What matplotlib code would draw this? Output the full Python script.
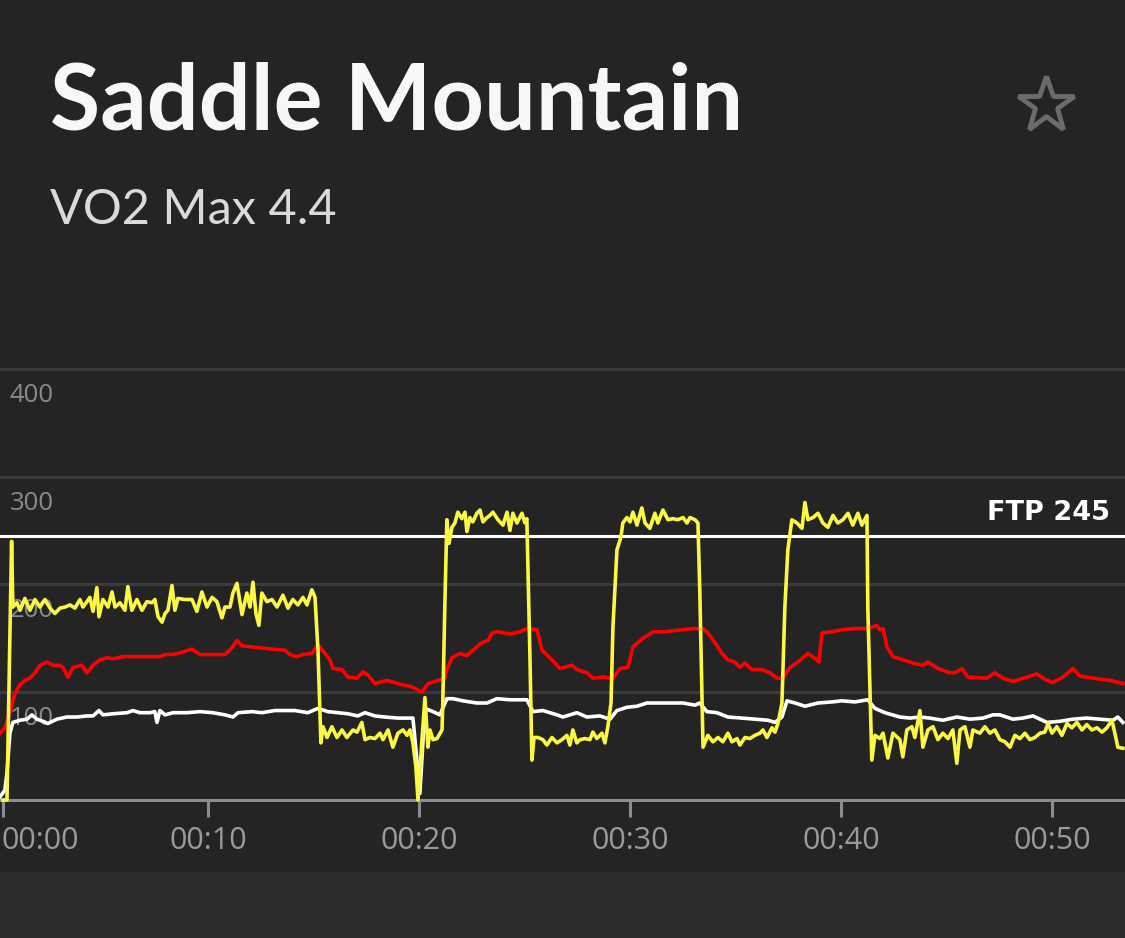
import matplotlib.pyplot as plt
from matplotlib.lines import Line2D
from matplotlib.patches import Rectangle

# workout data, time in minutes
power_t = [0.28, 0.33, 0.47, 0.69, 0.75, 0.94, 1.09, 1.32, 1.56, 1.80, 2.03, 2.27, 2.51, 2.74,
           2.98, 3.22, 3.46, 3.69, 3.93, 4.07, 4.26, 4.40, 4.55, 4.73, 4.83, 5.02, 5.26, 5.45,
           5.59, 5.83, 6.06, 6.20, 6.39, 6.63, 6.87, 7.10, 7.34, 7.48, 7.63, 7.82, 7.96, 8.10,
           8.29, 8.43, 8.57, 8.91, 9.24, 9.47, 9.71, 9.95, 10.19, 10.42, 10.66, 10.80, 11.04,
           11.18, 11.37, 11.61, 11.84, 11.99, 12.13, 12.27, 12.41, 12.55, 12.79, 13.03, 13.27,
           13.55, 13.79, 14.02, 14.26, 14.50, 14.69, 14.92, 15.07, 15.21, 15.35, 15.45, 15.64,
           15.87, 16.11, 16.35, 16.58, 16.87, 17.06, 17.29, 17.44, 17.67, 17.91, 18.15, 18.29,
           18.53, 18.76, 19.00, 19.24, 19.43, 19.57, 19.71, 19.85, 19.95, 20.14, 20.28, 20.42,
           20.52, 20.66, 20.85, 21.09, 21.13, 21.23, 21.32, 21.42, 21.56, 21.70, 21.84, 22.03,
           22.18, 22.27, 22.41, 22.55, 22.74, 22.89, 23.03, 23.22, 23.36, 23.50, 23.74, 23.98,
           24.17, 24.31, 24.45, 24.64, 24.88, 25.02, 25.11, 25.26, 25.35, 25.45, 25.64, 25.87,
           26.06, 26.30, 26.54, 26.77, 27.01, 27.15, 27.29, 27.48, 27.63, 27.86, 28.10, 28.24,
           28.43, 28.67, 28.81, 28.95, 29.10, 29.19, 29.38, 29.57, 29.66, 29.85, 30.00, 30.14,
           30.33, 30.56, 30.71, 30.94, 31.18, 31.32, 31.56, 31.80, 32.03, 32.27, 32.51, 32.70,
           32.84, 33.08, 33.22, 33.31, 33.46, 33.69, 33.93, 34.17, 34.40, 34.64, 34.83, 35.07,
           35.21, 35.45, 35.68, 35.92, 36.16, 36.30, 36.49, 36.73, 36.87, 37.01, 37.20, 37.34,
           37.48, 37.67, 37.91, 38.15, 38.29, 38.43, 38.67, 38.91, 39.14, 39.38, 39.62, 39.85,
           40.09, 40.33, 40.56, 40.80, 40.99, 41.23, 41.27, 41.46, 41.61, 41.84, 41.99, 42.22,
           42.46, 42.79, 42.93, 43.12, 43.36, 43.50, 43.74, 43.88, 44.12, 44.36, 44.59, 44.83,
           45.07, 45.30, 45.49, 45.64, 45.87, 46.11, 46.25, 46.58, 46.82, 47.06, 47.29, 47.53,
           47.77, 48.01, 48.24, 48.48, 48.72, 48.95, 49.19, 49.43, 49.66, 49.81, 50.00, 50.23,
           50.47, 50.71, 50.94, 51.18, 51.42, 51.65, 51.89, 52.13, 52.37, 52.60, 52.84, 52.98,
           53.12, 53.36]
power = [0, 0, 0, 240, 179, 183, 176, 187, 176, 186, 179, 186, 178, 173,
         178, 179, 181, 178, 186, 179, 184, 188, 175, 197, 170, 186, 179, 193,
         179, 183, 176, 198, 176, 186, 176, 184, 183, 186, 170, 165, 173, 176,
         199, 176, 187, 186, 186, 175, 193, 179, 188, 184, 169, 179, 179,
         192, 201, 172, 192, 179, 202, 173, 162, 192, 184, 186, 179,
         190, 178, 186, 181, 188, 181, 195, 188, 139, 53, 68, 58,
         68, 58, 65, 58, 65, 63, 72, 56, 58, 57, 62, 56,
         65, 49, 62, 65, 60, 65, 53, 31, 0, 56, 95, 49,
         65, 56, 57, 65, 93, 186, 260, 238, 253, 257, 267, 261,
         267, 249, 262, 258, 266, 269, 258, 262, 264, 267, 260, 255,
         267, 250, 266, 257, 266, 257, 261, 130, 37, 58, 58, 56,
         51, 58, 53, 56, 60, 51, 65, 53, 56, 57, 56, 63,
         57, 62, 53, 68, 90, 160, 232, 244, 257, 262, 258, 267,
         255, 271, 257, 252, 266, 257, 269, 260, 261, 260, 262, 257,
         262, 260, 257, 192, 49, 60, 54, 58, 54, 62, 54, 57,
         51, 58, 57, 60, 62, 65, 58, 67, 63, 71, 90, 179,
         232, 260, 257, 252, 276, 260, 262, 266, 257, 253, 264, 257,
         260, 266, 255, 266, 255, 264, 179, 37, 60, 57, 62, 39,
         62, 56, 40, 65, 68, 58, 83, 49, 65, 68, 56, 62,
         57, 65, 34, 65, 68, 49, 65, 62, 68, 62, 65, 56,
         54, 49, 60, 57, 62, 56, 58, 62, 63, 71, 62, 68,
         60, 71, 67, 72, 65, 70, 65, 67, 63, 67, 74, 62,
         49, 48]

heart_t = [0.14, 0.37, 0.61, 0.85, 1.09, 1.32, 1.56, 1.80, 2.03, 2.37, 2.65, 2.98, 3.12, 3.36,
           3.60, 4.02, 4.26, 4.55, 4.88, 5.21, 5.49, 5.97, 6.44, 6.92, 7.39, 7.72, 7.96, 8.34,
           8.76, 9.24, 9.62, 10.09, 10.56, 10.80, 11.13, 11.37, 11.61, 12.08, 12.55, 13.03,
           13.64, 13.88, 14.21, 14.50, 14.92, 15.21, 15.54, 15.78, 15.92, 16.35, 16.63, 17.06,
           17.34, 17.58, 17.91, 18.48, 19.00, 19.66, 20.14, 20.42, 20.90, 21.23, 21.32, 21.56,
           21.94, 22.27, 22.55, 22.98, 23.27, 23.46, 23.74, 24.31, 24.78, 25.11, 25.59, 25.83,
           26.30, 26.68, 27.25, 27.48, 27.96, 28.24, 28.72, 29.19, 29.52, 29.90, 30.14, 30.61,
           31.09, 31.56, 32.03, 32.51, 32.98, 33.46, 33.69, 34.02, 34.36, 34.64, 34.97, 35.21,
           35.45, 35.78, 36.25, 36.63, 36.96, 37.25, 37.58, 37.96, 38.43, 38.86, 38.95, 39.10,
           39.57, 40.04, 40.66, 41.27, 41.70, 41.84, 41.99, 42.18, 42.46, 42.79, 43.41, 43.88,
           44.12, 44.59, 45.16, 45.40, 45.73, 46.01, 46.92, 47.29, 47.67, 48.15, 48.81, 49.28,
           49.66, 50.04, 50.52, 50.99, 51.32, 51.94, 52.74, 53.36]
heart = [62, 67, 81, 99, 107, 111, 113, 118, 125, 128, 125, 125, 123, 114,
         123, 125, 118, 125, 130, 132, 131, 133, 133, 133, 133, 133, 135, 135,
         137, 140, 135, 135, 135, 135, 141, 148, 143, 142, 141, 140,
         139, 135, 133, 135, 136, 144, 136, 130, 122, 121, 114, 113,
         119, 116, 108, 111, 108, 105, 100, 108, 111, 113, 121, 132,
         136, 134, 139, 146, 148, 155, 156, 154, 156, 159, 158, 139,
         130, 122, 125, 121, 118, 113, 114, 113, 122, 123, 142, 150,
         156, 156, 157, 158, 159, 159, 155, 146, 136, 130, 128, 123,
         127, 121, 121, 118, 113, 113, 123, 128, 136, 130, 128, 155,
         156, 158, 159, 159, 162, 158, 159, 142, 133, 131, 127, 125,
         128, 122, 118, 118, 122, 114, 113, 118, 113, 110, 114, 117,
         112, 109, 114, 122, 115, 113, 111, 108]

cadence_t = [0.14, 0.37, 0.47, 0.61, 0.75, 1.09, 1.42, 1.65, 1.89, 2.18, 2.41, 2.84, 3.31, 3.79,
             4.26, 4.55, 4.83, 5.02, 5.49, 6.16, 6.44, 6.77, 7.25, 7.48, 7.58, 7.72, 7.96, 8.34,
             9.00, 9.62, 10.23, 10.80, 11.18, 11.42, 12.08, 12.55, 13.17, 14.12, 14.73, 15.21,
             15.68, 16.16, 16.63, 17.10, 17.44, 17.91, 18.38, 19.00, 19.71, 19.90, 20.04, 20.28,
             20.66, 20.99, 21.32, 21.61, 22.08, 22.74, 23.22, 23.69, 24.31, 25.11, 25.40, 25.87,
             26.54, 26.82, 27.48, 27.96, 28.57, 29.05, 29.38, 29.85, 30.33, 30.80, 31.28, 31.89,
             32.51, 33.08, 33.31, 33.64, 34.12, 34.64, 35.30, 35.92, 36.54, 36.87, 37.20, 37.44,
             37.82, 38.29, 38.91, 39.57, 40.04, 40.66, 41.27, 41.61, 42.08, 42.79, 43.27, 43.74,
             44.21, 44.83, 45.49, 46.11, 46.73, 47.20, 47.53, 48.15, 48.62, 49.10, 49.76, 50.37,
             50.99, 51.65, 52.27, 52.89, 53.12, 53.36]
cadence = [3, 9, 25, 62, 72, 74, 75, 79, 75, 73, 71, 75, 77, 77,
           78, 78, 83, 79, 80, 81, 83, 81, 81, 82, 72, 83, 79, 81,
           81, 82, 81, 79, 77, 81, 82, 81, 83, 83, 81, 85,
           82, 81, 80, 78, 81, 78, 77, 76, 76, 37, 6, 85,
           82, 79, 94, 94, 92, 90, 90, 94, 93, 93, 82, 83,
           79, 77, 81, 77, 78, 75, 83, 86, 87, 90, 90, 90,
           90, 88, 90, 82, 81, 77, 76, 75, 74, 72, 77, 92,
           90, 87, 90, 91, 92, 91, 93, 85, 81, 77, 76, 77,
           76, 74, 77, 75, 76, 79, 79, 75, 76, 78, 72, 73,
           75, 76, 75, 74, 77, 72]

ftp = 245
y_ticks = [100, 200, 300, 400]
x_ticks = [0, 10, 20, 30, 40, 50]
x_labels = ["00:00", "00:10", "00:20", "00:30", "00:40", "00:50"]

BG = "#242424"
GRID = "#3a3a3a"
AXIS = "#8c8c8c"
TICK_TXT = "#9a9a9a"

fig = plt.figure(figsize=(11.25, 9.38), dpi=100, facecolor=BG)
fig.patches.append(Rectangle((0, 0), 1, 0.0704, transform=fig.transFigure,
                             facecolor="#2d2d2d", edgecolor="none", zorder=0))

fig.text(0.044, 0.862, "Saddle Mountain", color="#f7f7f7", fontsize=66,
         fontfamily="Lato", fontweight="bold", va="baseline")
fig.text(0.044, 0.761, "VO2 Max 4.4", color="#dadada", fontsize=35,
         fontfamily="Lato", fontweight="normal", va="baseline")
fig.add_artist(Line2D([0.9298], [0.888], transform=fig.transFigure, marker="*",
                      markersize=42, markerfacecolor="none", markeredgecolor="#6b6b6b",
                      markeredgewidth=3.5))

ax = fig.add_axes([0, 0.1471, 1, 0.4712])
ax.set_facecolor(BG)
ax.set_xlim(0.14, 53.46)
ax.set_ylim(0, 410)

ax.set_yticks(y_ticks)
ax.yaxis.grid(True, color=GRID, lw=2.2)
ax.set_axisbelow(True)
ax.tick_params(axis="y", length=0, labelleft=False)
for v in y_ticks:
    ax.annotate(str(v), xy=(0, v), xycoords=("axes fraction", "data"),
                xytext=(7, -10), textcoords="offset points", ha="left", va="top",
                color="#8a8a8a", fontsize=18.5, fontfamily="Open Sans")

for s in ["top", "left", "right"]:
    ax.spines[s].set_visible(False)
ax.spines["bottom"].set_color(AXIS)
ax.spines["bottom"].set_linewidth(2.2)

# the 00:00 tick sits just left of the view; the app pins it to the left edge
ax.set_xticks(x_ticks[1:])
ax.set_xticklabels(x_labels[1:], fontfamily="Open Sans")
ax.tick_params(axis="x", length=12, width=2.2, color=AXIS, labelcolor=TICK_TXT,
               labelsize=22, pad=7)
ax.plot([0.003, 0.003], [0, -0.0377], transform=ax.transAxes, color=AXIS,
        lw=2.2, clip_on=False, solid_capstyle="butt")
ax.annotate(x_labels[0], xy=(0.0, 0), xycoords="axes fraction",
            xytext=(1, -19), textcoords="offset points", ha="left", va="top",
            color=TICK_TXT, fontsize=22, fontfamily="Open Sans")

ax.axhline(ftp, color="white", lw=2.2, zorder=2)
ax.annotate(f"FTP {ftp}", xy=(0.987, ftp), xycoords=("axes fraction", "data"),
            xytext=(0, 7), textcoords="offset points", ha="right", va="bottom",
            color="white", fontsize=19.5, fontweight="bold")

ax.plot(cadence_t, cadence, color="white", lw=2.6, zorder=3, clip_on=False)
ax.plot(heart_t, heart, color="#ff0000", lw=2.6, zorder=4, clip_on=False)
ax.plot(power_t, power, color="#fbf743", lw=2.6, zorder=5, clip_on=False)

plt.savefig("out.png", dpi=100, facecolor=BG)
